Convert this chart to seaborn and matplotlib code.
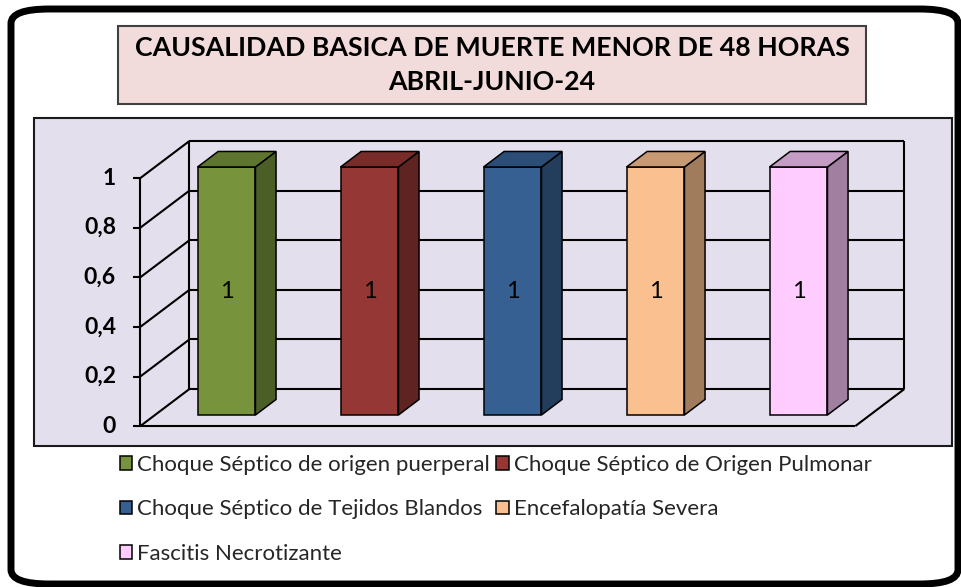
import matplotlib
matplotlib.use("Agg")
import matplotlib.pyplot as plt
from matplotlib.patches import Polygon, Rectangle, FancyBboxPatch, Patch
import seaborn as sns

# data
categories = [
    "Choque Séptico de origen puerperal",
    "Choque Séptico de Origen Pulmonar",
    "Choque Séptico de Tejidos Blandos",
    "Encefalopatía Severa",
    "Fascitis Necrotizante",
]
values = [1, 1, 1, 1, 1]
y_ticks = [0, 0.2, 0.4, 0.6, 0.8, 1]
y_tick_labels = ["0", "0,2", "0,4", "0,6", "0,8", "1"]

front_colors = ["#77933C", "#953735", "#376092", "#FAC090", "#FFCCFF"]
top_colors = ["#5E7530", "#772C2A", "#2C4D75", "#C89A73", "#C49CC4"]
side_colors = ["#4B5E26", "#5F2321", "#233D5D", "#A07B5C", "#A17FA1"]

title_lines = "CAUSALIDAD BASICA DE MUERTE MENOR DE 48 HORAS\nABRIL-JUNIO-24"

sns.set_theme(style="white")
plt.rcParams["font.family"] = ["Lato", "DejaVu Sans"]

W, H = 961, 587
fig = plt.figure(figsize=(W / 100, H / 100), dpi=100)
fig.patch.set_facecolor("white")


def fx(px):
    return px / W


def fy(py):
    # image pixel (from top) -> figure fraction
    return 1 - py / H


# outer rounded frame
frame = FancyBboxPatch((fx(11), fy(584)), fx(947), 575 / H,
                       boxstyle="round,pad=0,rounding_size=0.04",
                       transform=fig.transFigure, facecolor="white",
                       edgecolor="black", linewidth=5, zorder=0,
                       mutation_aspect=H / W)
fig.patches.append(frame)

# plot area
fig.patches.append(Rectangle((fx(34), fy(446)), fx(918), 328 / H,
                             transform=fig.transFigure, facecolor="#E4DFEC",
                             edgecolor="#1a1a1a", linewidth=1.5, zorder=1))

# title box
fig.patches.append(Rectangle((fx(118), fy(104)), fx(748), 78 / H,
                             transform=fig.transFigure, facecolor="#F2DCDB",
                             edgecolor="#404040", linewidth=1.5, zorder=1))
fig.text(fx(492), fy(65), title_lines, ha="center", va="center",
         fontsize=19.3, fontweight="bold", linespacing=1.45, color="black")

# axes = bar front plane
ax = fig.add_axes([fx(155), fy(415), fx(715), 248 / H])
ax.patch.set_visible(False)
ax.set_zorder(5)

sns.barplot(x=categories, y=values, hue=categories, palette=front_colors,
            saturation=1, width=0.405, edgecolor="black", linewidth=1.1,
            legend=False, ax=ax, zorder=4)
ax.set_xlim(-0.5, len(categories) - 0.5)
ax.set_ylim(0, 1)
ax.set_axis_off()

# oblique depth (data units) for the fake 3D look
DX, DY = 0.3427, 0.1492
T_FRONT_BAR, T_BACK_BAR = 0.3, 0.72


def pt(x, y, t):
    return (x + (t - T_FRONT_BAR) * DX, y + (t - T_FRONT_BAR) * DY)


x0, x1 = -0.5, len(categories) - 0.5
line_kw = dict(color="black", linewidth=1.5, clip_on=False, zorder=2,
               solid_capstyle="butt")

# back wall gridlines and side wall diagonals
for v, lab in zip(y_ticks, y_tick_labels):
    a, b = pt(x0, v, 1), pt(x1, v, 1)
    ax.plot([a[0], b[0]], [a[1], b[1]], **line_kw)
    c = pt(x0, v, 0)
    ax.plot([c[0], a[0]], [c[1], a[1]], **line_kw)
    # tick mark on front axis
    ax.plot([c[0] - 0.049, c[0]], [c[1], c[1]], **line_kw)
    ax.text(c[0] - 0.17, c[1], lab, ha="right", va="center",
            fontsize=16.5, fontweight="bold", color="black")

for xx, tt in [(x0, 1), (x1, 1), (x0, 0)]:
    a, b = pt(xx, 0, tt), pt(xx, 1, tt)
    ax.plot([a[0], b[0]], [a[1], b[1]], **line_kw)

# floor front edge and right edge
a, b = pt(x0, 0, 0), pt(x1, 0, 0)
ax.plot([a[0], b[0]], [a[1], b[1]], **line_kw)
c = pt(x1, 0, 1)
ax.plot([b[0], c[0]], [b[1], c[1]], **line_kw)

# side and top faces of each bar
d = (T_BACK_BAR - T_FRONT_BAR)
for i, bar in enumerate(ax.patches):
    bx, bw, bh = bar.get_x(), bar.get_width(), bar.get_height()
    side = [(bx + bw, 0), (bx + bw + d * DX, d * DY),
            (bx + bw + d * DX, bh + d * DY), (bx + bw, bh)]
    top = [(bx, bh), (bx + d * DX, bh + d * DY),
           (bx + bw + d * DX, bh + d * DY), (bx + bw, bh)]
    ax.add_patch(Polygon(side, closed=True, facecolor=side_colors[i],
                         edgecolor="black", linewidth=1.1, clip_on=False,
                         zorder=4))
    ax.add_patch(Polygon(top, closed=True, facecolor=top_colors[i],
                         edgecolor="black", linewidth=1.1, clip_on=False,
                         zorder=4))
    bar.set_clip_on(False)
    ax.text(bx + bw / 2, bh / 2, f"{values[i]:g}", ha="center", va="center",
            fontsize=17, color="black", zorder=5)

# legend, row-major order: reorder for matplotlib's column filling
order = [0, 2, 4, 1, 3]
handles = [Patch(facecolor=front_colors[i], edgecolor="black", linewidth=1.1)
           for i in order]
labels = [categories[i] for i in order]
fig.legend(handles, labels, ncol=2, loc="upper left",
           bbox_to_anchor=(fx(111), fy(446)), frameon=False, fontsize=16,
           handlelength=0.55, handleheight=0.55, handletextpad=0.22,
           columnspacing=0.3, labelspacing=1.1, borderaxespad=0)

fig.savefig("out.png", dpi=100, facecolor="white")
